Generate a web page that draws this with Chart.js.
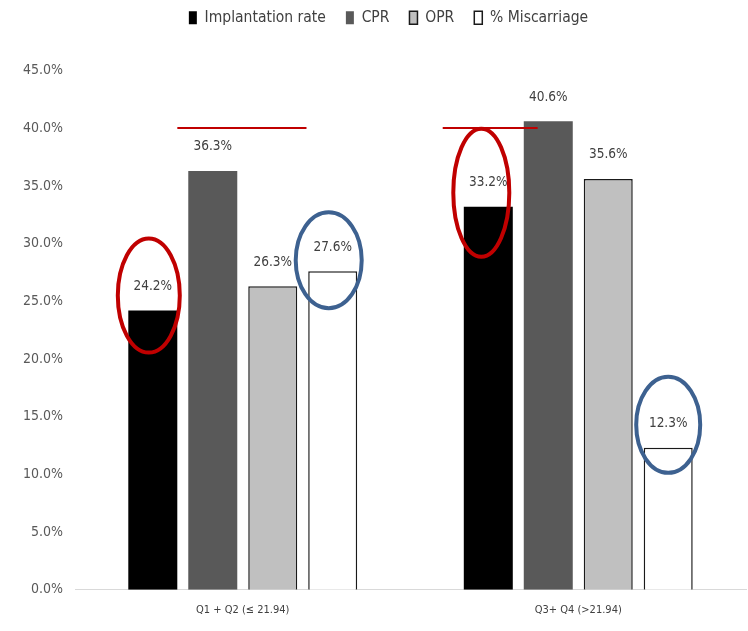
<!DOCTYPE html>
<html>
<head>
<meta charset="utf-8">
<script src="https://cdn.jsdelivr.net/npm/chart.js@4/dist/chart.umd.min.js"></script>
<style>
  html, body { margin: 0; padding: 0; background: #ffffff; }
  #wrap { width: 748px; height: 631px; }
</style>
</head>
<body>
<div id="wrap"><canvas id="chart" width="748" height="631"></canvas></div>
<script>
// Groups (AMH quartile split) and outcome rates in percent
const categories = ['Q1 + Q2 (\u2264 21.94)', 'Q3+ Q4 (>21.94)'];
const seriesNames = ['Implantation rate', 'CPR', 'OPR', '% Miscarriage'];
const implantationRate = [24.2, 33.2];
const cpr = [36.3, 40.6];
const opr = [26.3, 35.6];
const miscarriage = [27.6, 12.3];
const yTicks = [0, 5, 10, 15, 20, 25, 30, 35, 40, 45];

const FONT = '"DejaVu Sans Condensed", "DejaVu Sans", sans-serif';
const LABEL_COLOR = '#404040';

// Highlight rings drawn around selected bar labels
const rings = [
  { dataset: 0, index: 0, dx: -4, dy: -15, rx: 31, ry: 57, color: '#c00000' },
  { dataset: 0, index: 1, dx: -7, dy: -14, rx: 28, ry: 64, color: '#c00000' },
  { dataset: 3, index: 0, dx: -4, dy: -11, rx: 33, ry: 48, color: '#3d6190' },
  { dataset: 3, index: 1, dx: 0, dy: -23, rx: 32, ry: 48, color: '#3d6190' }
];
// Reference lines at the 40% level, spans given in category units
const refLines = [
  { value: 40, from: -0.195, to: 0.19 },
  { value: 40, from: 0.596, to: 0.879 }
];

const overlayPlugin = {
  id: 'overlay',
  beforeInit(chart) {
    const origFit = chart.legend.fit;
    chart.legend.fit = function () {
      origFit.call(this);
      this.height += 35;
    };
  },
  afterLayout(chart) {
    // nudge the legend row a little to the right of centre
    chart.legend.left += 10;
    chart.legend.right += 10;
  },
  afterDatasetsDraw(chart) {
    const ctx = chart.ctx;
    const x = chart.scales.x, y = chart.scales.y;
    ctx.save();
    // value labels above each bar
    ctx.font = '13.5px ' + FONT;
    ctx.fillStyle = LABEL_COLOR;
    ctx.textAlign = 'center';
    ctx.textBaseline = 'middle';
    chart.data.datasets.forEach((ds, di) => {
      chart.getDatasetMeta(di).data.forEach((bar, i) => {
        ctx.fillText(ds.data[i].toFixed(1) + '%', bar.x, bar.y - 24);
      });
    });
    // red reference lines
    ctx.strokeStyle = '#c00000';
    ctx.lineWidth = 2;
    refLines.forEach(l => {
      const py = Math.round(y.getPixelForValue(l.value));
      ctx.beginPath();
      ctx.moveTo(x.getPixelForValue(l.from), py);
      ctx.lineTo(x.getPixelForValue(l.to), py);
      ctx.stroke();
    });
    // highlight rings
    ctx.lineWidth = 4;
    rings.forEach(r => {
      const bar = chart.getDatasetMeta(r.dataset).data[r.index];
      ctx.strokeStyle = r.color;
      ctx.beginPath();
      ctx.ellipse(bar.x + r.dx, bar.y + r.dy, r.rx, r.ry, 0, 0, Math.PI * 2);
      ctx.stroke();
    });
    ctx.restore();
  }
};

new Chart(document.getElementById('chart'), {
  type: 'bar',
  data: {
    labels: categories,
    datasets: [
      { label: seriesNames[0], data: implantationRate, backgroundColor: '#000000', borderColor: '#000000', borderWidth: 0 },
      { label: seriesNames[1], data: cpr, backgroundColor: '#595959', borderColor: '#595959', borderWidth: 0 },
      { label: seriesNames[2], data: opr, backgroundColor: '#c0c0c0', borderColor: '#1a1a1a', borderWidth: 1.5 },
      { label: seriesNames[3], data: miscarriage, backgroundColor: '#ffffff', borderColor: '#1a1a1a', borderWidth: 1.5 }
    ]
  },
  options: {
    responsive: false,
    animation: false,
    devicePixelRatio: 1,
    layout: { padding: { top: -10, left: 11, right: 2, bottom: 0 } },
    datasets: {
      bar: { categoryPercentage: 0.715, barPercentage: 0.817 }
    },
    plugins: {
      legend: {
        position: 'top',
        labels: {
          color: LABEL_COLOR,
          font: { family: FONT, size: 15.5 },
          boxWidth: 8,
          boxHeight: 13,
          padding: 20
        }
      },
      tooltip: { enabled: false }
    },
    scales: {
      x: {
        grid: { display: false, drawTicks: false, tickLength: 0 },
        border: { display: true, color: '#d9d9d9', width: 1 },
        ticks: { color: LABEL_COLOR, font: { family: FONT, size: 11 }, padding: 14 }
      },
      y: {
        min: 0,
        max: 45,
        afterBuildTicks(scale) { scale.ticks = yTicks.map(v => ({ value: v })); },
        grid: { display: false, drawTicks: false, tickLength: 0 },
        border: { display: false },
        ticks: {
          color: '#595959',
          font: { family: FONT, size: 14 },
          padding: 12,
          callback: v => v.toFixed(1) + '%'
        }
      }
    }
  },
  plugins: [overlayPlugin]
});
</script>
</body>
</html>
